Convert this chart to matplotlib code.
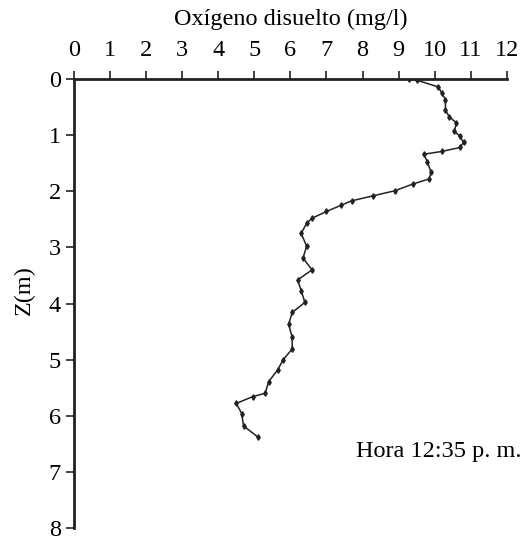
import matplotlib.pyplot as plt

# oxygen profile (mg/l vs depth in m)
oxigeno = [9.3, 9.5, 10.1, 10.2, 10.3, 10.3, 10.4, 10.6, 10.55, 10.7, 10.8, 10.7,
           10.2, 9.7, 9.8, 9.9, 9.85, 9.4, 8.9, 8.3, 7.7, 7.4, 7.0, 6.6, 6.45,
           6.3, 6.45, 6.35, 6.6, 6.2, 6.3, 6.4, 6.05, 5.95, 6.05, 6.05, 5.8,
           5.65, 5.4, 5.3, 4.95, 4.5, 4.65, 4.7, 5.1]
profundidad = [0.0, 0.02, 0.14, 0.25, 0.37, 0.55, 0.67, 0.78, 0.93, 1.02, 1.13, 1.22,
               1.29, 1.34, 1.48, 1.66, 1.78, 1.87, 1.99, 2.08, 2.17, 2.25, 2.36, 2.48, 2.57,
               2.75, 2.98, 3.19, 3.40, 3.58, 3.77, 3.98, 4.16, 4.37, 4.60, 4.81, 5.0,
               5.18, 5.39, 5.6, 5.66, 5.78, 5.96, 6.18, 6.38]
xticks = list(range(0, 13))
yticks = list(range(0, 9))

plt.rcParams['font.family'] = ['Liberation Serif', 'DejaVu Serif']

fig = plt.figure(figsize=(5.23, 5.42), dpi=100)
ax = fig.add_axes([0.1415, 0.0258, 0.8275, 0.8284])

ax.plot(oxigeno, profundidad, color='#222222', lw=1.1, marker='d', ms=2.8)

ax.set_xlim(0, 12)
ax.set_ylim(8, 0)
ax.set_xticks(xticks)
ax.set_yticks(yticks)
ax.xaxis.tick_top()
ax.xaxis.set_label_position('top')
ax.set_xlabel('Oxígeno disuelto (mg/l)', fontsize=17.5, labelpad=11)
ax.set_ylabel('Z(m)', fontsize=17.5, labelpad=8)
ax.yaxis.set_label_coords(-0.09, 0.53)
ax.tick_params(labelsize=17.5, length=6, width=1.2, direction='out', color='#222222')
ax.tick_params(axis='x', pad=7)

for s in ['right', 'bottom']:
    ax.spines[s].set_visible(False)
for s in ['left', 'top']:
    ax.spines[s].set_linewidth(2)
    ax.spines[s].set_color('#222222')

fig.text(0.998, 1 - 452 / 542, 'Hora 12:35 p. m.', fontsize=17.5, ha='right', va='center')

fig.savefig('out.png', dpi=100)
